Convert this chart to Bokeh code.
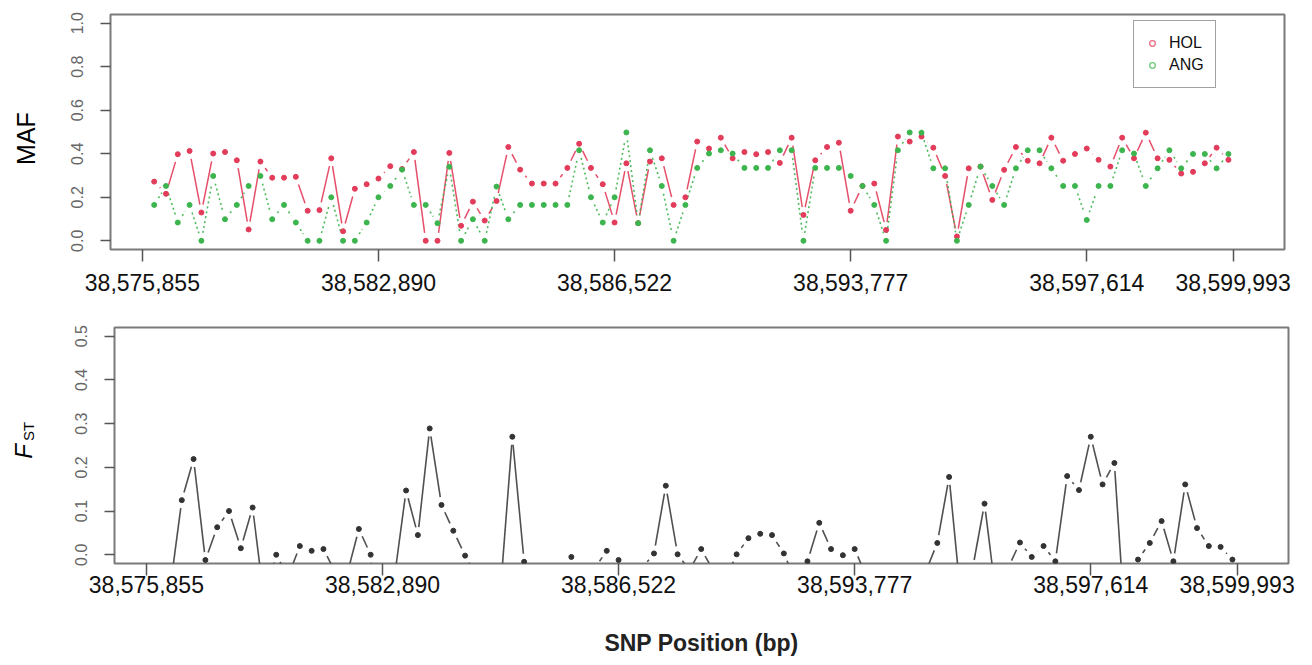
import math
import numpy as np
from bokeh.plotting import figure
from bokeh.models import (FixedTicker, Range1d, Legend, LegendItem,
                          PrintfTickFormatter)
from bokeh.layouts import column, row
from bokeh.embed import file_html
from bokeh.resources import INLINE
from bokeh.core.properties import value

# ---------------- data ----------------
snp_index = list(range(1, 93))

hol_maf = [0.272, 0.216, 0.398, 0.413, 0.130, 0.401, 0.408, 0.370, 0.052, 0.364,
           0.290, 0.290, 0.294, 0.138, 0.141, 0.379, 0.044, 0.239, 0.260, 0.286,
           0.343, 0.330, 0.408, 0.000, 0.000, 0.404, 0.069, 0.180, 0.093, 0.183,
           0.431, 0.327, 0.263, 0.263, 0.263, 0.335, 0.446, 0.335, 0.260, 0.084,
           0.356, 0.081, 0.364, 0.379, 0.165, 0.200, 0.456, 0.424, 0.474, 0.379,
           0.408, 0.398, 0.408, 0.358, 0.474, 0.119, 0.370, 0.431, 0.451, 0.138,
           0.252, 0.263, 0.050, 0.479, 0.456, 0.479, 0.428, 0.298, 0.020, 0.333,
           0.341, 0.188, 0.326, 0.431, 0.368, 0.356, 0.474, 0.368, 0.399, 0.424,
           0.372, 0.341, 0.474, 0.379, 0.497, 0.379, 0.372, 0.309, 0.317, 0.356,
           0.428, 0.372]

ang_maf = [0.165, 0.252, 0.084, 0.165, 0.000, 0.298, 0.099, 0.165, 0.252, 0.298,
           0.099, 0.165, 0.084, 0.000, 0.000, 0.200, 0.000, 0.000, 0.084, 0.200,
           0.252, 0.327, 0.165, 0.165, 0.081, 0.340, 0.000, 0.099, 0.000, 0.249,
           0.099, 0.165, 0.165, 0.165, 0.165, 0.165, 0.416, 0.200, 0.084, 0.200,
           0.498, 0.081, 0.416, 0.252, 0.000, 0.165, 0.335, 0.401, 0.416, 0.401,
           0.335, 0.335, 0.335, 0.416, 0.416, 0.000, 0.335, 0.335, 0.335, 0.298,
           0.252, 0.165, 0.000, 0.416, 0.498, 0.497, 0.333, 0.333, 0.000, 0.165,
           0.341, 0.252, 0.165, 0.333, 0.416, 0.416, 0.333, 0.252, 0.252, 0.096,
           0.252, 0.252, 0.416, 0.401, 0.252, 0.333, 0.416, 0.333, 0.399, 0.399,
           0.333, 0.399]

fst = [-0.10, -0.08, 0.125, 0.219, -0.012, 0.063, 0.100, 0.015, 0.108, -0.11,
       0.000, -0.05, 0.020, 0.009, 0.013, -0.04, -0.045, 0.059, 0.000, -0.30,
       -0.055, 0.147, 0.045, 0.289, 0.114, 0.055, -0.002, -0.05, -0.20, -0.08,
       0.270, -0.016, -0.10, -0.10, -0.05, -0.005, -0.05, -0.03, 0.009, -0.012,
       -0.04, -0.03, 0.003, 0.158, 0.001, -0.035, 0.013, -0.035, -0.06, 0.001,
       0.038, 0.048, 0.045, 0.003, -0.06, -0.015, 0.073, 0.013, -0.001, 0.013,
       -0.05, -0.08, -0.05, -0.10, -0.05, -0.04, 0.027, 0.178, -0.10, -0.03,
       0.117, -0.10, -0.03, 0.028, -0.005, 0.020, -0.015, 0.180, 0.148, 0.270,
       0.161, 0.210, -0.20, -0.011, 0.027, 0.077, -0.015, 0.161, 0.061, 0.020,
       0.018, -0.011]

tick_index = [0, 20, 40, 60, 80, 92.4]
tick_labels = ["38,575,855", "38,582,890", "38,586,522",
               "38,593,777", "38,597,614", "38,599,993"]
maf_ticks = [0.0, 0.2, 0.4, 0.6, 0.8, 1.0]
fst_ticks = [0.0, 0.1, 0.2, 0.3, 0.4, 0.5]

# ---------------- styling ----------------
RED = "#e23c5a"
GREEN = "#3db54e"
DARK = "#333333"
FONT = "Liberation Sans"
GAP = 8.0          # px gap between point and connecting line (R type = "b")

X_RANGE = (-2.7, 96.75)
FRAME_W = 1174
SIDE_W = 50
H1 = 14 + 235 + 66
H2 = 12 + 236 + 95
TXT_SHIFT = 12     # small vertical correction for the rotated side titles


def gapped_segments(x, y, xr, yr, fw, fh, gap):
    x = np.asarray(x, float)
    y = np.asarray(y, float)
    sx = fw / (xr[1] - xr[0])
    sy = fh / (yr[1] - yr[0])
    dx = np.diff(x)
    dy = np.diff(y)
    L = np.hypot(dx * sx, dy * sy)
    keep = L > 2 * gap
    f = np.where(keep, gap / np.where(L == 0, 1, L), 0)
    return dict(x0=(x[:-1] + f * dx)[keep], y0=(y[:-1] + f * dy)[keep],
                x1=(x[1:] - f * dx)[keep], y1=(y[1:] - f * dy)[keep])


def style(p, yticks, xstandoff):
    p.xgrid.visible = False
    p.ygrid.visible = False
    p.outline_line_color = "#7a7a7a"
    p.outline_line_width = 2
    p.xaxis.ticker = FixedTicker(ticks=tick_index)
    p.xaxis.major_label_overrides = {t: l for t, l in zip(tick_index, tick_labels)}
    p.xaxis.major_label_text_font_size = "23px"
    p.xaxis.major_label_text_font = FONT
    p.xaxis.major_label_text_color = "#111111"
    p.xaxis.major_label_standoff = xstandoff
    p.yaxis.ticker = FixedTicker(ticks=yticks)
    p.yaxis.formatter = PrintfTickFormatter(format="%.1f")
    p.yaxis.major_label_orientation = "vertical"
    p.yaxis.major_label_text_font_size = "16px"
    p.yaxis.major_label_text_font = FONT
    p.yaxis.major_label_text_color = "#666666"
    p.yaxis.major_label_standoff = 17
    for ax in (p.xaxis, p.yaxis):
        ax.axis_line_color = None
        ax.major_tick_in = 0
        ax.minor_tick_line_color = None
        ax.major_tick_line_color = "#555555"
        ax.major_tick_line_width = 1.5
    p.xaxis.major_tick_out = 12
    p.yaxis.major_tick_out = 10


def side_panel(height):
    s = figure(frame_width=SIDE_W, frame_height=height,
               min_border_left=0, min_border_right=0, min_border_top=0,
               min_border_bottom=0, x_range=Range1d(0, SIDE_W),
               y_range=Range1d(0, height), x_axis_location=None,
               y_axis_location=None, output_backend="svg",
               toolbar_location=None)
    s.xgrid.visible = False
    s.ygrid.visible = False
    s.outline_line_color = None
    return s


# ---------------- top: MAF ----------------
maf_yr = (-0.04, 1.04)
p1 = figure(frame_width=FRAME_W, frame_height=235,
            min_border_left=110 - SIDE_W, min_border_right=18,
            min_border_top=14, min_border_bottom=66,
            x_range=Range1d(*X_RANGE), y_range=Range1d(*maf_yr),
            output_backend="svg", toolbar_location=None)
style(p1, maf_ticks, 12)

seg_h = gapped_segments(snp_index, hol_maf, X_RANGE, maf_yr, FRAME_W, 235, GAP)
seg_a = gapped_segments(snp_index, ang_maf, X_RANGE, maf_yr, FRAME_W, 235, GAP)
p1.segment(x0="x0", y0="y0", x1="x1", y1="y1", source=seg_h,
           line_color=RED, line_width=1.5, line_alpha=0.9)
p1.segment(x0="x0", y0="y0", x1="x1", y1="y1", source=seg_a,
           line_color=GREEN, line_width=1.6, line_dash="2 3", line_alpha=0.9)
p1.scatter(snp_index, hol_maf, size=5, marker="circle",
           fill_color=RED, line_color=RED)
p1.scatter(snp_index, ang_maf, size=5, marker="circle",
           fill_color=GREEN, line_color=GREEN)

leg_h = p1.scatter([float("nan")], [float("nan")], size=7, marker="circle",
                   fill_color=None, line_color=RED, line_alpha=0.75,
                   line_width=1.3)
leg_a = p1.scatter([float("nan")], [float("nan")], size=7, marker="circle",
                   fill_color=None, line_color=GREEN, line_alpha=0.75,
                   line_width=1.3)
legend = Legend(items=[LegendItem(label="HOL", renderers=[leg_h]),
                       LegendItem(label="ANG", renderers=[leg_a])],
                location=(1023, 161), padding=11, spacing=0,
                glyph_width=14, glyph_height=22, label_height=22,
                label_standoff=10, margin=0,
                label_text_font=FONT, label_text_font_size="16px",
                label_text_color="#111111",
                border_line_color="#444444", border_line_width=1.5,
                background_fill_color="white", background_fill_alpha=1)
p1.add_layout(legend)

s1 = side_panel(H1)
s1.text(x=[25], y=[H1 - 136 + TXT_SHIFT], text=["MAF"], angle=math.pi / 2,
        text_font=value(FONT), text_font_size="25px", text_color="#000000",
        text_align="center", text_baseline="middle")

# ---------------- bottom: FST ----------------
fst_yr = (-0.02, 0.52)
p2 = figure(frame_width=FRAME_W, frame_height=236,
            min_border_left=114 - SIDE_W, min_border_right=14,
            min_border_top=12, min_border_bottom=95,
            x_range=Range1d(*X_RANGE), y_range=Range1d(*fst_yr),
            output_backend="svg", toolbar_location=None)
style(p2, fst_ticks, 0)
p2.xaxis.axis_label = "SNP Position (bp)"
p2.xaxis.axis_label_text_font = FONT
p2.xaxis.axis_label_text_font_size = "23px"
p2.xaxis.axis_label_text_font_style = "bold"
p2.xaxis.axis_label_text_color = "#222222"
p2.xaxis.axis_label_standoff = 34

seg_f = gapped_segments(snp_index, fst, X_RANGE, fst_yr, FRAME_W, 236, GAP)
p2.segment(x0="x0", y0="y0", x1="x1", y1="y1", source=seg_f,
           line_color="#505050", line_width=1.6)
p2.scatter(snp_index, fst, size=5, marker="circle",
           fill_color=DARK, line_color=DARK)

# y-axis title F_ST (italic F, subscript ST)
s2 = side_panel(H2)
s2.text(x=[22.5], y=[H2 - (451 - H1) + TXT_SHIFT], text=["F"],
        angle=math.pi / 2, text_font=value(FONT), text_font_style="italic",
        text_font_size="24px", text_color="#000000",
        text_align="center", text_baseline="middle")
s2.text(x=[28], y=[H2 - (431 - H1) + TXT_SHIFT], text=["ST"],
        angle=math.pi / 2, text_font=value(FONT), text_font_size="15px",
        text_color="#000000", text_align="center", text_baseline="middle")

layout = column(row(s1, p1, spacing=0), row(s2, p2, spacing=0), spacing=0)
open("out.html", "w").write(file_html(layout, INLINE))
